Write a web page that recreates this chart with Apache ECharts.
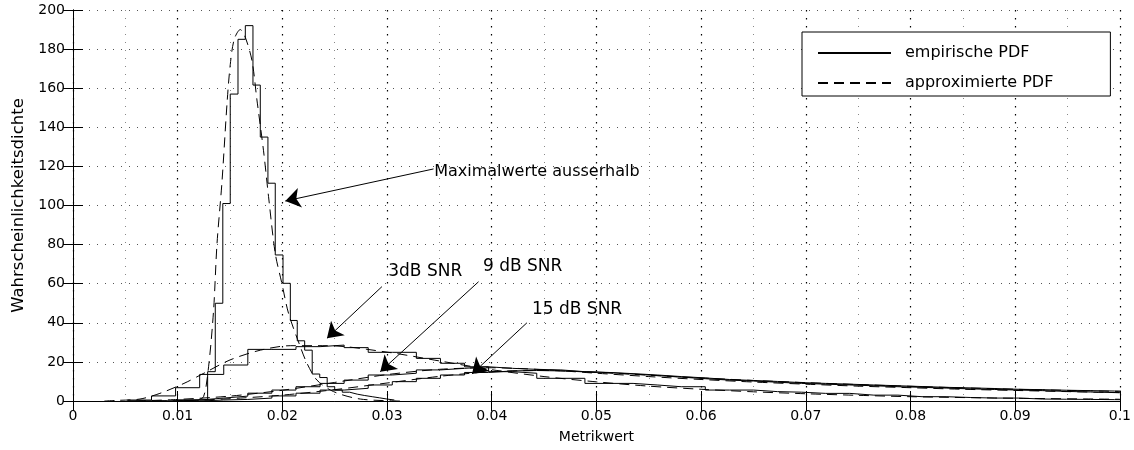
<!DOCTYPE html>
<html><head><meta charset="utf-8">
<script src="https://cdn.jsdelivr.net/npm/echarts@6/dist/echarts.min.js"></script>
<style>html,body{margin:0;padding:0;background:#fff}#c{width:1134px;height:450px}</style>
</head><body><div id="c"></div>
<script>
const FONT = 'DejaVu Sans';

// Empirical PDF of the sharp peak ("Maximalwerte ausserhalb"): bin edges and heights
const peakEdges = [0.0100, 0.01286, 0.01359, 0.01431, 0.01502, 0.01576, 0.01646, 0.01719, 0.01789, 0.01862,
  0.01932, 0.02006, 0.02076, 0.02142, 0.02213, 0.02285, 0.02357, 0.02428, 0.0250, 0.02572,
  0.02643, 0.02715, 0.02787, 0.02858, 0.0293, 0.0300, 0.0307];
const peakValues = [0.6, 15, 50, 101, 157, 185, 192, 161.6, 135, 111.4,
  74.7, 60.2, 41.2, 30.8, 26, 13.8, 12, 7.3, 5.6, 4.5,
  3.5, 2.8, 2.2, 1.6, 1, 0.5];

// Bin edges shared by the SNR histograms
const snrEdges = [0.0052, 0.0075, 0.0098, 0.0121, 0.0144, 0.0167, 0.0190, 0.0213, 0.0236, 0.0259,
  0.0282, 0.0305, 0.0328, 0.0351, 0.0374, 0.0397, 0.0420, 0.0443, 0.0466, 0.0489,
  0.0512, 0.0535, 0.0558, 0.0581, 0.0604, 0.0627, 0.0650, 0.0673, 0.0696, 0.0719,
  0.0742, 0.0765, 0.0788, 0.0811, 0.0834, 0.0857, 0.0880, 0.0903, 0.0926, 0.0949,
  0.0972, 0.0995, 0.1018];
const snr3Values = [0.5, 2.6, 6.8, 13.6, 18.4, 26.4, 26.4, 27.8, 28.6, 27.3,
  24.9, 24.9, 21.8, 19.3, 17.5, 15, 14.2, 11.6, 11.6, 9,
  9, 8.2, 7.3, 7.3, 5.6, 5.6, 4.8, 4.5, 3.9, 3.9,
  3, 3, 2.2, 2.2, 1.8, 1.5, 1.5, 1, 0.9, 0.8,
  0.7, 0.6];
const snr9Values = [0, 0, 0.5, 1.5, 2.5, 4, 5.6, 7.3, 9, 10.7,
  13.3, 14.2, 15.9, 16.7, 17.5, 16.7, 16.2, 15.9, 15, 14.5,
  13.8, 13, 12.2, 11.4, 10.7, 10.2, 9.6, 9, 8.6, 8.2,
  7.8, 7.3, 7, 6.6, 6.2, 5.9, 5.6, 5.3, 4.9, 4.6,
  4.3, 4];
const snr15Values = [0, 0, 0, 0.5, 0.8, 1.5, 2.6, 4, 5.6, 6.5,
  8.2, 9.9, 11.6, 13.3, 14.6, 15.4, 15.6, 15.4, 15, 14.6,
  14, 13.3, 12.5, 11.8, 11, 10.5, 10, 9.4, 9, 8.6,
  8.2, 7.8, 7.4, 7, 6.7, 6.4, 6, 5.8, 5.5, 5.3,
  5.1, 4.9];

// Approximated PDFs, [x, density]
const peakApprox = [[0.0105,0],[0.0118,0.5],[0.01247,2.2],[0.01295,17.5],[0.01343,46.5],[0.01375,80],
  [0.01423,112],[0.01471,152],[0.01502,172],[0.0154,185],[0.01598,190],[0.01646,186],[0.0171,174],
  [0.01757,154],[0.0182,128],[0.01868,104.5],[0.01932,75.5],[0.01996,60],[0.02059,44.8],[0.02171,27.8],
  [0.02235,19.3],[0.0233,10.7],[0.02489,4.8],[0.02744,1],[0.03126,0]];
const snr3Approx = [[0.003,0],[0.0042,0.3],[0.0064,1],[0.0083,3.9],[0.0106,9],[0.0125,14.2],[0.015,21],
  [0.0179,26],[0.0208,28.3],[0.0243,28.3],[0.03,25],[0.035,20.5],[0.04,16],[0.045,12.5],[0.05,9.8],
  [0.055,7.6],[0.06,6],[0.065,4.7],[0.07,3.7],[0.075,2.9],[0.08,2.2],[0.09,1.4],[0.1,0.9]];
const snr9Approx = [[0.006,0],[0.01,0.8],[0.015,2.5],[0.02,5.5],[0.025,9.5],[0.03,13.5],[0.035,16.2],
  [0.04,17],[0.045,16],[0.05,14.2],[0.055,12.5],[0.06,11],[0.065,9.7],[0.07,8.6],[0.075,7.6],
  [0.08,6.8],[0.085,6],[0.09,5.4],[0.095,4.8],[0.1,4.3]];
const snr15Approx = [[0.008,0],[0.012,0.4],[0.016,1.5],[0.02,3],[0.025,5.8],[0.03,9.2],[0.035,12.6],
  [0.04,15],[0.045,15.6],[0.05,14.6],[0.055,13.2],[0.06,11.8],[0.065,10.5],[0.07,9.4],[0.075,8.4],
  [0.08,7.5],[0.085,6.7],[0.09,6],[0.095,5.4],[0.1,4.9]];

// Annotations: arrow [from, tip] and text anchor (left edge, vertical centre) in data units
const arrowLines = [
  [[0.03444, 118.7], [0.02028, 102.3]],
  [[0.02951, 58.5], [0.02426, 32.1]],
  [[0.03874, 61.0], [0.02935, 15.0]],
  [[0.04336, 40.0], [0.03811, 13.8]]
];
const annotTexts = ['Maximalwerte ausserhalb', '3dB SNR', '9 dB SNR', '15 dB SNR'];
const annotAnchors = [[0.0345, 117.3], [0.03011, 66.1], [0.03916, 69.0], [0.04384, 46.9]];
const annotSizes = [16, 17, 17, 17];

const legendNames = ['empirische PDF', 'approximierte PDF'];

function stairs(edges, values) {
  const d = values.map((v, i) => [edges[i], v]);
  d.push([edges[values.length], values[values.length - 1]]);
  return d;
}
const solid = {color: '#000', width: 1, type: 'solid'};
const dashed = {color: '#000', width: 1, type: [10, 6]};
function stepSeries(name, data) {
  return {name, type: 'line', data, step: 'end', symbol: 'none', showSymbol: false,
    lineStyle: solid, itemStyle: {color: '#000'}, silent: true, animation: false, z: 3};
}
function approxSeries(name, data) {
  return {name, type: 'line', data, smooth: 0.3, symbol: 'none', showSymbol: false,
    lineStyle: dashed, itemStyle: {color: '#000'}, silent: true, animation: false, z: 3};
}

const peakSeries = stepSeries(legendNames[0], stairs(peakEdges, peakValues));
peakSeries.markLine = {
  silent: true, animation: false, symbol: ['none', 'arrow'], symbolSize: 15,
  lineStyle: {color: '#000', width: 1, type: 'solid'}, label: {show: false},
  emphasis: {disabled: true},
  data: arrowLines.map(a => [{coord: a[0]}, {coord: a[1]}])
};
peakSeries.markPoint = {
  silent: true, animation: false, symbol: 'circle', symbolSize: 0,
  data: annotTexts.map((t, i) => ({name: t, coord: annotAnchors[i],
    label: {show: true, position: 'right', distance: 0, formatter: '{b}', color: '#000',
      fontFamily: FONT, fontSize: annotSizes[i]}}))
};

const axisCommon = {
  axisLine: {show: true, lineStyle: {color: '#000', width: 1}},
  axisTick: {show: true, inside: true, length: 10, lineStyle: {color: '#000'}},
};

const option = {
  animation: false,
  backgroundColor: '#fff',
  textStyle: {fontFamily: FONT},
  grid: {left: 73, right: 14, top: 10, bottom: 49, containLabel: false},
  legend: {
    data: legendNames, orient: 'vertical', left: 802, top: 32,
    itemWidth: 73, itemHeight: 14, itemGap: 14,
    padding: [13, 57, 5, 15],
    backgroundColor: '#fff', borderColor: '#000', borderWidth: 1, borderRadius: 0,
    itemStyle: {color: 'rgba(0,0,0,0)', borderColor: 'rgba(0,0,0,0)', borderWidth: 0, opacity: 0},
    textStyle: {fontSize: 16, color: '#000', fontFamily: FONT, padding: [0, 0, 0, 9]},
    selectedMode: false, z: 10
  },
  xAxis: [
    Object.assign({}, axisCommon, {
      type: 'value', min: 0, max: 0.1, interval: 0.01, position: 'bottom',
      name: 'Metrikwert', nameLocation: 'middle', nameGap: 29,
      nameTextStyle: {color: '#000', fontSize: 14, fontFamily: FONT},
      axisLabel: {color: '#000', fontSize: 14, margin: 8, fontFamily: FONT},
      splitLine: {show: true, lineStyle: {color: '#000', width: 1.2, type: [1.5, 6.5]}},
      minorTick: {show: false, splitNumber: 2},
      minorSplitLine: {show: true, lineStyle: {color: '#888', width: 1, type: [1, 7]}}
    }),
    Object.assign({}, axisCommon, {
      type: 'value', min: 0, max: 0.1, interval: 0.01, position: 'top',
      axisLabel: {show: false}, splitLine: {show: false}
    })
  ],
  yAxis: [
    Object.assign({}, axisCommon, {
      type: 'value', min: 0, max: 200, interval: 20, position: 'left',
      name: 'Wahrscheinlichkeitsdichte', nameLocation: 'middle', nameGap: 46, nameRotate: 90,
      nameTextStyle: {color: '#000', fontSize: 16.5, fontFamily: FONT},
      axisLabel: {color: '#000', fontSize: 14, margin: 8, fontFamily: FONT},
      splitLine: {show: true, lineStyle: {color: '#555', width: 1, type: [1, 7]}}
    }),
    Object.assign({}, axisCommon, {
      type: 'value', min: 0, max: 200, interval: 20, position: 'right',
      axisLabel: {show: false}, splitLine: {show: false}
    })
  ],
  series: [
    peakSeries,
    approxSeries(legendNames[1], peakApprox),
    stepSeries('3 dB empirisch', stairs(snrEdges, snr3Values)),
    approxSeries('3 dB approximiert', snr3Approx),
    stepSeries('9 dB empirisch', stairs(snrEdges, snr9Values)),
    approxSeries('9 dB approximiert', snr9Approx),
    stepSeries('15 dB empirisch', stairs(snrEdges, snr15Values)),
    approxSeries('15 dB approximiert', snr15Approx)
  ]
};
const chart = echarts.init(document.getElementById('c'), null, {renderer: 'canvas'});
chart.setOption(option);
</script>
</body></html>
